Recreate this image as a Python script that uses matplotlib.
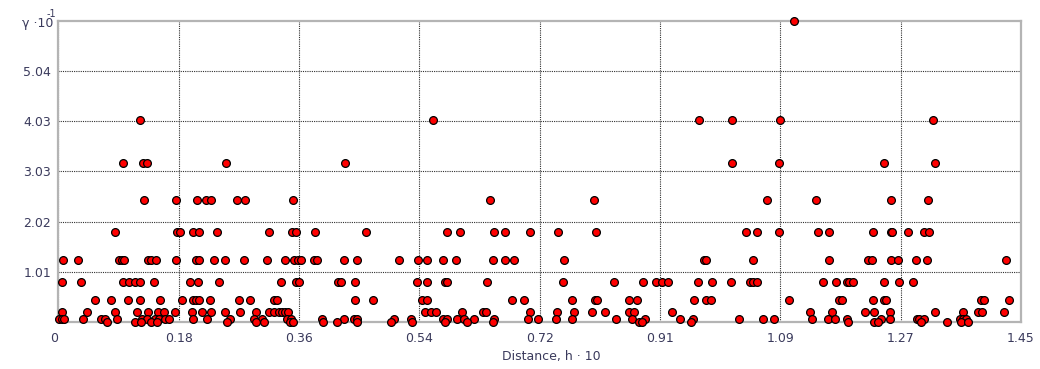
import numpy as np
import matplotlib
matplotlib.use('Agg')
from matplotlib import pyplot as plt

# semivariogram cloud: gamma levels (x10^-1) and distances (h x10)
lev_605 = [1.108]
lev_405 = [0.1226, 0.5640, 0.9655, 1.0152, 1.0866, 1.3180]
lev_320 = [0.0975, 0.1271, 0.1336, 0.2526, 0.4319, 1.0152, 1.0856, 1.2437, 1.3201]
lev_245 = [0.1295, 0.1768, 0.2094, 0.2220, 0.2300, 0.2692, 0.2817, 0.3535, 0.6507,
           0.8074, 1.0671, 1.1409, 1.2543, 1.3096]
lev_180 = [0.0859, 0.1783, 0.1829, 0.2034, 0.2115, 0.2386, 0.3169, 0.3520, 0.3580,
           0.3867, 0.4630, 0.5850, 0.6051, 0.6563, 0.6729, 0.7101, 0.7532, 0.8095,
           1.0354, 1.0524, 1.0851, 1.1448, 1.1614, 1.2272, 1.2543, 1.2563, 1.2804,
           1.3045, 1.3120]
lev_125 = [0.0075, 0.0301, 0.0919, 0.0955, 0.0990, 0.1351, 0.1396, 0.1476, 0.1768,
           0.2079, 0.2124, 0.2345, 0.2506, 0.2797, 0.3144, 0.3415, 0.3555, 0.3606,
           0.3656, 0.3856, 0.3901, 0.4303, 0.4504, 0.5127, 0.5418, 0.5558, 0.5790,
           0.5991, 0.6543, 0.6729, 0.6869, 0.7617, 0.9722, 0.9756, 1.0460, 1.1614,
           1.2196, 1.2252, 1.2543, 1.2648, 1.2915, 1.3081, 1.4275]
lev_080 = [0.0056, 0.0346, 0.0975, 0.1065, 0.1151, 0.1231, 0.1437, 0.1988, 0.2100,
           0.2421, 0.3354, 0.3576, 0.3626, 0.4213, 0.4254, 0.4469, 0.5398, 0.5558,
           0.5825, 0.5850, 0.6457, 0.7598, 0.8375, 0.8812, 0.8999, 0.9098, 0.9184,
           0.9631, 0.9842, 1.0133, 1.0419, 1.0469, 1.0520, 1.1514, 1.1714, 1.1876,
           1.1915, 1.1966, 1.2437, 1.2663, 1.2879]
lev_045 = [0.0548, 0.0798, 0.1045, 0.1231, 0.1536, 0.1868, 0.2034, 0.2079, 0.2124,
           0.2281, 0.2717, 0.2883, 0.3254, 0.3294, 0.4469, 0.4736, 0.5474, 0.5558,
           0.6830, 0.7010, 0.7742, 0.8084, 0.8110, 0.8601, 0.8712, 0.9575, 0.9756,
           0.9827, 1.1011, 1.1764, 1.1800, 1.2272, 1.2437, 1.2468, 1.3894, 1.3944,
           1.4320]
lev_020 = [0.0056, 0.0428, 0.0859, 0.1190, 0.1356, 0.1497, 0.1588, 0.1758, 0.2018,
           0.2160, 0.2300, 0.2515, 0.2741, 0.2982, 0.3169, 0.3249, 0.3329, 0.3374,
           0.3415, 0.3464, 0.5524, 0.5614, 0.5685, 0.6076, 0.6402, 0.6442, 0.7101,
           0.7516, 0.7768, 0.8035, 0.8235, 0.8601, 0.8672, 0.9239, 1.1323, 1.1659,
           1.2147, 1.2291, 1.2523, 1.3201, 1.3632, 1.3858, 1.3918, 1.4250]
lev_005 = [0.0006, 0.0051, 0.0081, 0.0368, 0.0648, 0.0708, 0.0889, 0.1261, 0.1336,
           0.1461, 0.1512, 0.1612, 0.1672, 0.2034, 0.2244, 0.2586, 0.2952, 0.3073,
           0.3440, 0.3505, 0.3968, 0.4303, 0.4459, 0.4504, 0.5057, 0.5308, 0.5790,
           0.5850, 0.6010, 0.6116, 0.6262, 0.6563, 0.7080, 0.7230, 0.7492, 0.7742,
           0.8396, 0.8646, 0.8837, 0.9365, 0.9565, 1.0258, 1.0619, 1.0785, 1.1348,
           1.1589, 1.1699, 1.1876, 1.2392, 1.2523, 1.2930, 1.2965, 1.3045, 1.3582,
           1.3632, 1.3672]
lev_000 = [0.0734, 0.1151, 0.1250, 0.1396, 0.1482, 0.2537, 0.2978, 0.3103, 0.3490,
           0.3540, 0.3992, 0.4193, 0.4504, 0.5007, 0.5332, 0.5825, 0.6152, 0.6543,
           0.8752, 0.8788, 0.9526, 1.1891, 1.2291, 1.2343, 1.2995, 1.3382, 1.3597,
           1.3698]

levels = [6.05, 4.05, 3.2, 2.45, 1.8, 1.25, 0.8, 0.45, 0.2, 0.05, 0.0]
groups = [lev_605, lev_405, lev_320, lev_245, lev_180, lev_125, lev_080, lev_045,
          lev_020, lev_005, lev_000]

xticklabels = ['0', '0.18', '0.36', '0.54', '0.72', '0.91', '1.09', '1.27', '1.45']
yticklabels = ['1.01', '2.02', '3.03', '4.03', '5.04']

txt = '#3a3a5c'

fig = plt.figure(figsize=(10.4, 3.69), dpi=100)
ax = fig.add_axes([0.056, 0.1274, 0.9257, 0.8165])

for g, lv in zip(groups, levels):
    ax.plot(g, [lv] * len(g), 'o', ms=5.6, mfc='#ff0000', mec='black', mew=0.9,
            clip_on=False, zorder=3)

ax.set_xlim(0, 1.45)
ax.set_ylim(0, 6.05)
ax.set_xticks(np.linspace(0, 1.45, 9))
ax.set_xticklabels(xticklabels)
ax.set_yticks(np.linspace(0, 6.05, 7)[1:6])
ax.set_yticklabels(yticklabels)
ax.get_xticklabels()[0].set_ha('right')
ax.tick_params(length=0, labelsize=9, labelcolor=txt)
ax.tick_params(axis='x', pad=7)
ax.tick_params(axis='y', pad=5)

ax.grid(True, color='#303030', linestyle=(0, (1, 1)), linewidth=0.8)
for s in ax.spines.values():
    s.set_color('#b4b4b4')
    s.set_linewidth(1.6)

fig.text(0.021, 0.935, 'γ ·10', fontsize=9, color=txt, va='center')
fig.text(0.0445, 0.963, '-1', fontsize=7, color=txt, va='center')
fig.text(0.53, 0.034, 'Distance, h · 10', fontsize=9, color=txt, ha='center', va='center')

fig.savefig('out.png', dpi=100)
